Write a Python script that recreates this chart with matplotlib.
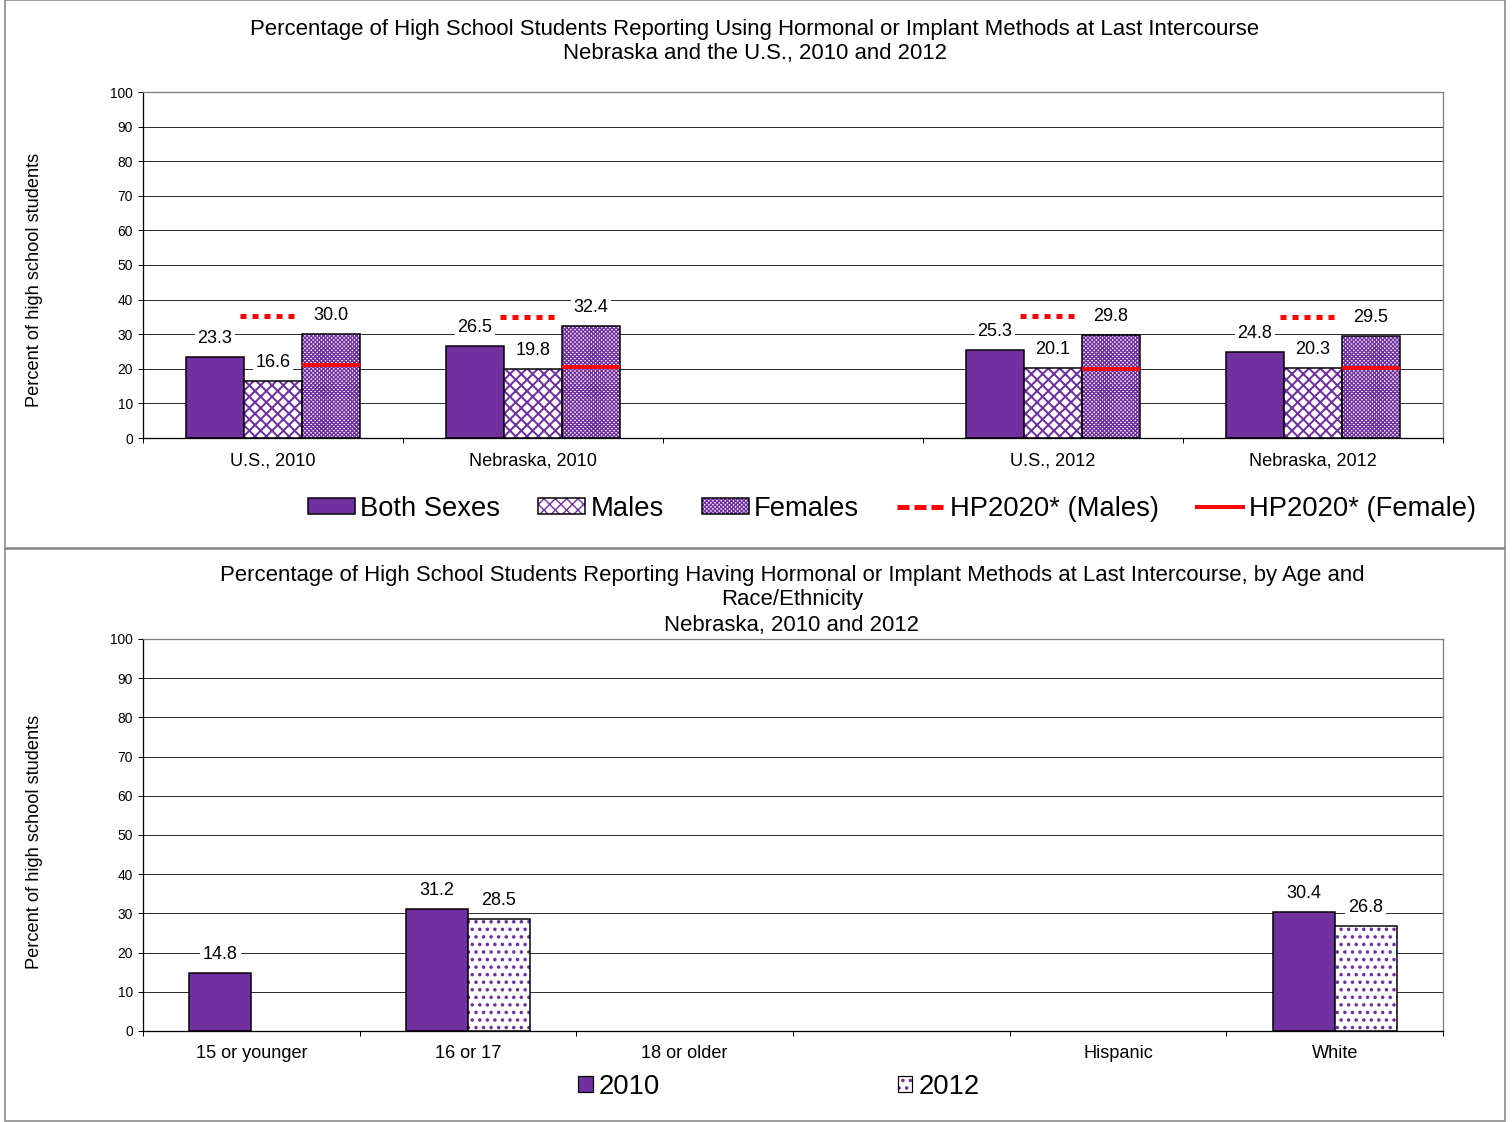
import numpy as np
import matplotlib
matplotlib.use('Agg')
import matplotlib.pyplot as plt
from matplotlib.patches import Rectangle, Patch
from matplotlib.lines import Line2D
from matplotlib.legend_handler import HandlerTuple

PURPLE = '#7030A0'
DPI = 136
PX = 72.0 / DPI  # points per pixel

plt.rcParams['font.family'] = ['Liberation Sans', 'DejaVu Sans']
plt.rcParams['hatch.color'] = PURPLE
plt.rcParams['hatch.linewidth'] = 1.0

nan = np.nan

# ---- data: method by sex ----
top_categories = ['U.S., 2010', 'Nebraska, 2010', '', 'U.S., 2012', 'Nebraska, 2012']
both_sexes = [23.3, 26.5, nan, 25.3, 24.8]
males = [16.6, 19.8, nan, 20.1, 20.3]
females = [30.0, 32.4, nan, 29.8, 29.5]
hp2020_males = [35.3, 35.0, nan, 35.3, 35.0]
hp2020_females = [21.1, 20.4, nan, 20.0, 20.3]

# ---- data: by age and race/ethnicity ----
bottom_categories = ['15 or younger', '16 or 17', '18 or older', '', 'Hispanic', 'White']
pct_2010 = [14.8, 31.2, nan, nan, nan, 30.4]
pct_2012 = [nan, 28.5, nan, nan, nan, 26.8]

yticks = list(range(0, 101, 10))

# hatch styles: (pattern, hatch line width in points)
HATCH_MALES = ('xxxx', 2.0 * PX)
HATCH_FEMALES = ('xxxxxxxxxxx', 1.4 * PX)
HATCH_DOTS = ('...', 2.0 * PX)

fig = plt.figure(figsize=(1512 / DPI, 1122 / DPI), dpi=DPI)
W, H = 1512.0, 1122.0


def fx(px):
    return px / W


def fy(py):
    return 1 - py / H


# panel frames
fig.add_artist(Rectangle((fx(5), fy(548)), fx(1500), 548 / H, transform=fig.transFigure,
                         fill=False, edgecolor='#808080', lw=1.5 * PX))
fig.add_artist(Rectangle((fx(5), fy(1121)), fx(1500), 572 / H, transform=fig.transFigure,
                         fill=False, edgecolor='#808080', lw=1.5 * PX))


def hatched_patch(style, **kw):
    pattern, hlw = style
    plt.rcParams['hatch.linewidth'] = hlw
    p = Patch(facecolor='white', hatch=pattern, **kw)
    if hasattr(p, 'set_hatch_linewidth'):
        p.set_hatch_linewidth(hlw)
    return p


def style_axes(ax, ncat, labels):
    ax.set_xlim(-0.5, ncat - 0.5)
    ax.set_ylim(0, 100)
    ax.set_yticks(yticks)
    ax.tick_params(axis='y', length=5 * PX, width=1 * PX, labelsize=7.3, pad=5 * PX)
    ax.set_xticks(range(ncat))
    ax.set_xticklabels(labels, fontsize=9.6)
    ax.set_xticks(np.arange(-0.5, ncat, 1.0), minor=True)
    ax.tick_params(axis='x', which='major', length=0, pad=14 * PX)
    ax.tick_params(axis='x', which='minor', length=5 * PX, width=1 * PX)
    ax.grid(axis='y', color='#303030', lw=1 * PX)
    ax.set_axisbelow(True)
    for s in ('left', 'bottom'):
        ax.spines[s].set_color('black')
        ax.spines[s].set_linewidth(1.3 * PX)
    for s in ('top', 'right'):
        ax.spines[s].set_color('#808080')
        ax.spines[s].set_linewidth(1.3 * PX)


def draw_bars(ax, xs, vals, width, style=None):
    for x, v in zip(xs, vals):
        if np.isnan(v):
            continue
        if style is None:
            ax.bar(x, v, width, color=PURPLE, edgecolor='black', lw=1.5 * PX, zorder=2)
        else:
            pattern, hlw = style
            plt.rcParams['hatch.linewidth'] = hlw
            bars = ax.bar(x, v, width, color='white', hatch=pattern, zorder=2)
            for b in bars:
                if hasattr(b, 'set_hatch_linewidth'):
                    b.set_hatch_linewidth(hlw)
            ax.bar(x, v, width, fill=False, edgecolor='black', lw=1.5 * PX, zorder=3)
        ax.annotate(f'{v:.1f}', (x, v), xytext=(0, 18.5 * PX), textcoords='offset points',
                    ha='center', va='center', fontsize=9.5, zorder=5,
                    bbox=dict(facecolor='white', edgecolor='none', pad=1.5))


# ---- top chart ----
ax1 = fig.add_axes([fx(143), fy(438), fx(1300), 346 / H])
style_axes(ax1, len(top_categories), top_categories)
bw = 0.223
idx = np.arange(len(top_categories))
draw_bars(ax1, idx - bw, both_sexes, bw)
draw_bars(ax1, idx, males, bw, HATCH_MALES)
draw_bars(ax1, idx + bw, females, bw, HATCH_FEMALES)
for i in idx:
    if not np.isnan(hp2020_males[i]):
        ax1.plot([i - bw / 2 - 0.015, i + bw / 2 - 0.01], [hp2020_males[i]] * 2, color='red',
                 lw=5 * PX, ls=(0, (1.2, 1.2)), solid_capstyle='butt', zorder=4)
    if not np.isnan(hp2020_females[i]):
        ax1.plot([i + bw / 2, i + 1.5 * bw], [hp2020_females[i]] * 2, color='red',
                 lw=4 * PX, solid_capstyle='butt', zorder=4)

fig.text(fx(755), fy(29), 'Percentage of High School Students Reporting Using Hormonal or Implant Methods at Last Intercourse',
         ha='center', va='center', fontsize=11.7)
fig.text(fx(755), fy(54), 'Nebraska and the U.S., 2010 and 2012', ha='center', va='center', fontsize=11.7)
fig.text(fx(35), fy(280), 'Percent of high school students', rotation=90, ha='center', va='center', fontsize=9.7)

h_both = Patch(facecolor=PURPLE, edgecolor='black', lw=1.5 * PX)
h_males = (hatched_patch(HATCH_MALES), Patch(fill=False, edgecolor='black', lw=1.5 * PX))
h_females = (hatched_patch(HATCH_FEMALES), Patch(fill=False, edgecolor='black', lw=1.5 * PX))
h_hpm = Line2D([], [], color='red', lw=5 * PX, ls=(0, (2.4, 1.0)))
h_hpf = Line2D([], [], color='red', lw=4 * PX)
fig.legend([h_both, h_males, h_females, h_hpm, h_hpf],
           ['Both Sexes', 'Males', 'Females', 'HP2020* (Males)', 'HP2020* (Female)'],
           loc='center', bbox_to_anchor=(fx(892), fy(509)), ncol=5, frameon=False,
           fontsize=14.5, handlelength=1.7, handleheight=0.5, handletextpad=0.2,
           columnspacing=1.4, borderaxespad=0, borderpad=0,
           handler_map={tuple: HandlerTuple(ndivide=1, pad=0)})

# ---- bottom chart ----
ax2 = fig.add_axes([fx(143), fy(1031), fx(1300), 392 / H])
style_axes(ax2, len(bottom_categories), bottom_categories)
bw2 = 0.286
idx2 = np.arange(len(bottom_categories))
draw_bars(ax2, idx2 - bw2 / 2, pct_2010, bw2)
draw_bars(ax2, idx2 + bw2 / 2, pct_2012, bw2, HATCH_DOTS)

fig.text(fx(792), fy(575), 'Percentage of High School Students Reporting Having Hormonal or Implant Methods at Last Intercourse, by Age and',
         ha='center', va='center', fontsize=11.7)
fig.text(fx(792), fy(600), 'Race/Ethnicity', ha='center', va='center', fontsize=11.7)
fig.text(fx(792), fy(625), 'Nebraska, 2010 and 2012', ha='center', va='center', fontsize=11.7)
fig.text(fx(35), fy(842), 'Percent of high school students', rotation=90, ha='center', va='center', fontsize=9.7)

h_2010 = Patch(facecolor=PURPLE, edgecolor='black', lw=1.2 * PX)
h_2012 = (hatched_patch(HATCH_DOTS), Patch(fill=False, edgecolor='black', lw=1.2 * PX))
fig.legend([h_2010, h_2012], ['2010', '2012'], loc='center', bbox_to_anchor=(fx(779), fy(1087)),
           ncol=2, frameon=False, fontsize=14.5, handlelength=0.52, handleheight=0.52,
           handletextpad=0.22, columnspacing=8.7, borderaxespad=0, borderpad=0,
           handler_map={tuple: HandlerTuple(ndivide=1, pad=0)})

fig.savefig('out.png', dpi=DPI)
